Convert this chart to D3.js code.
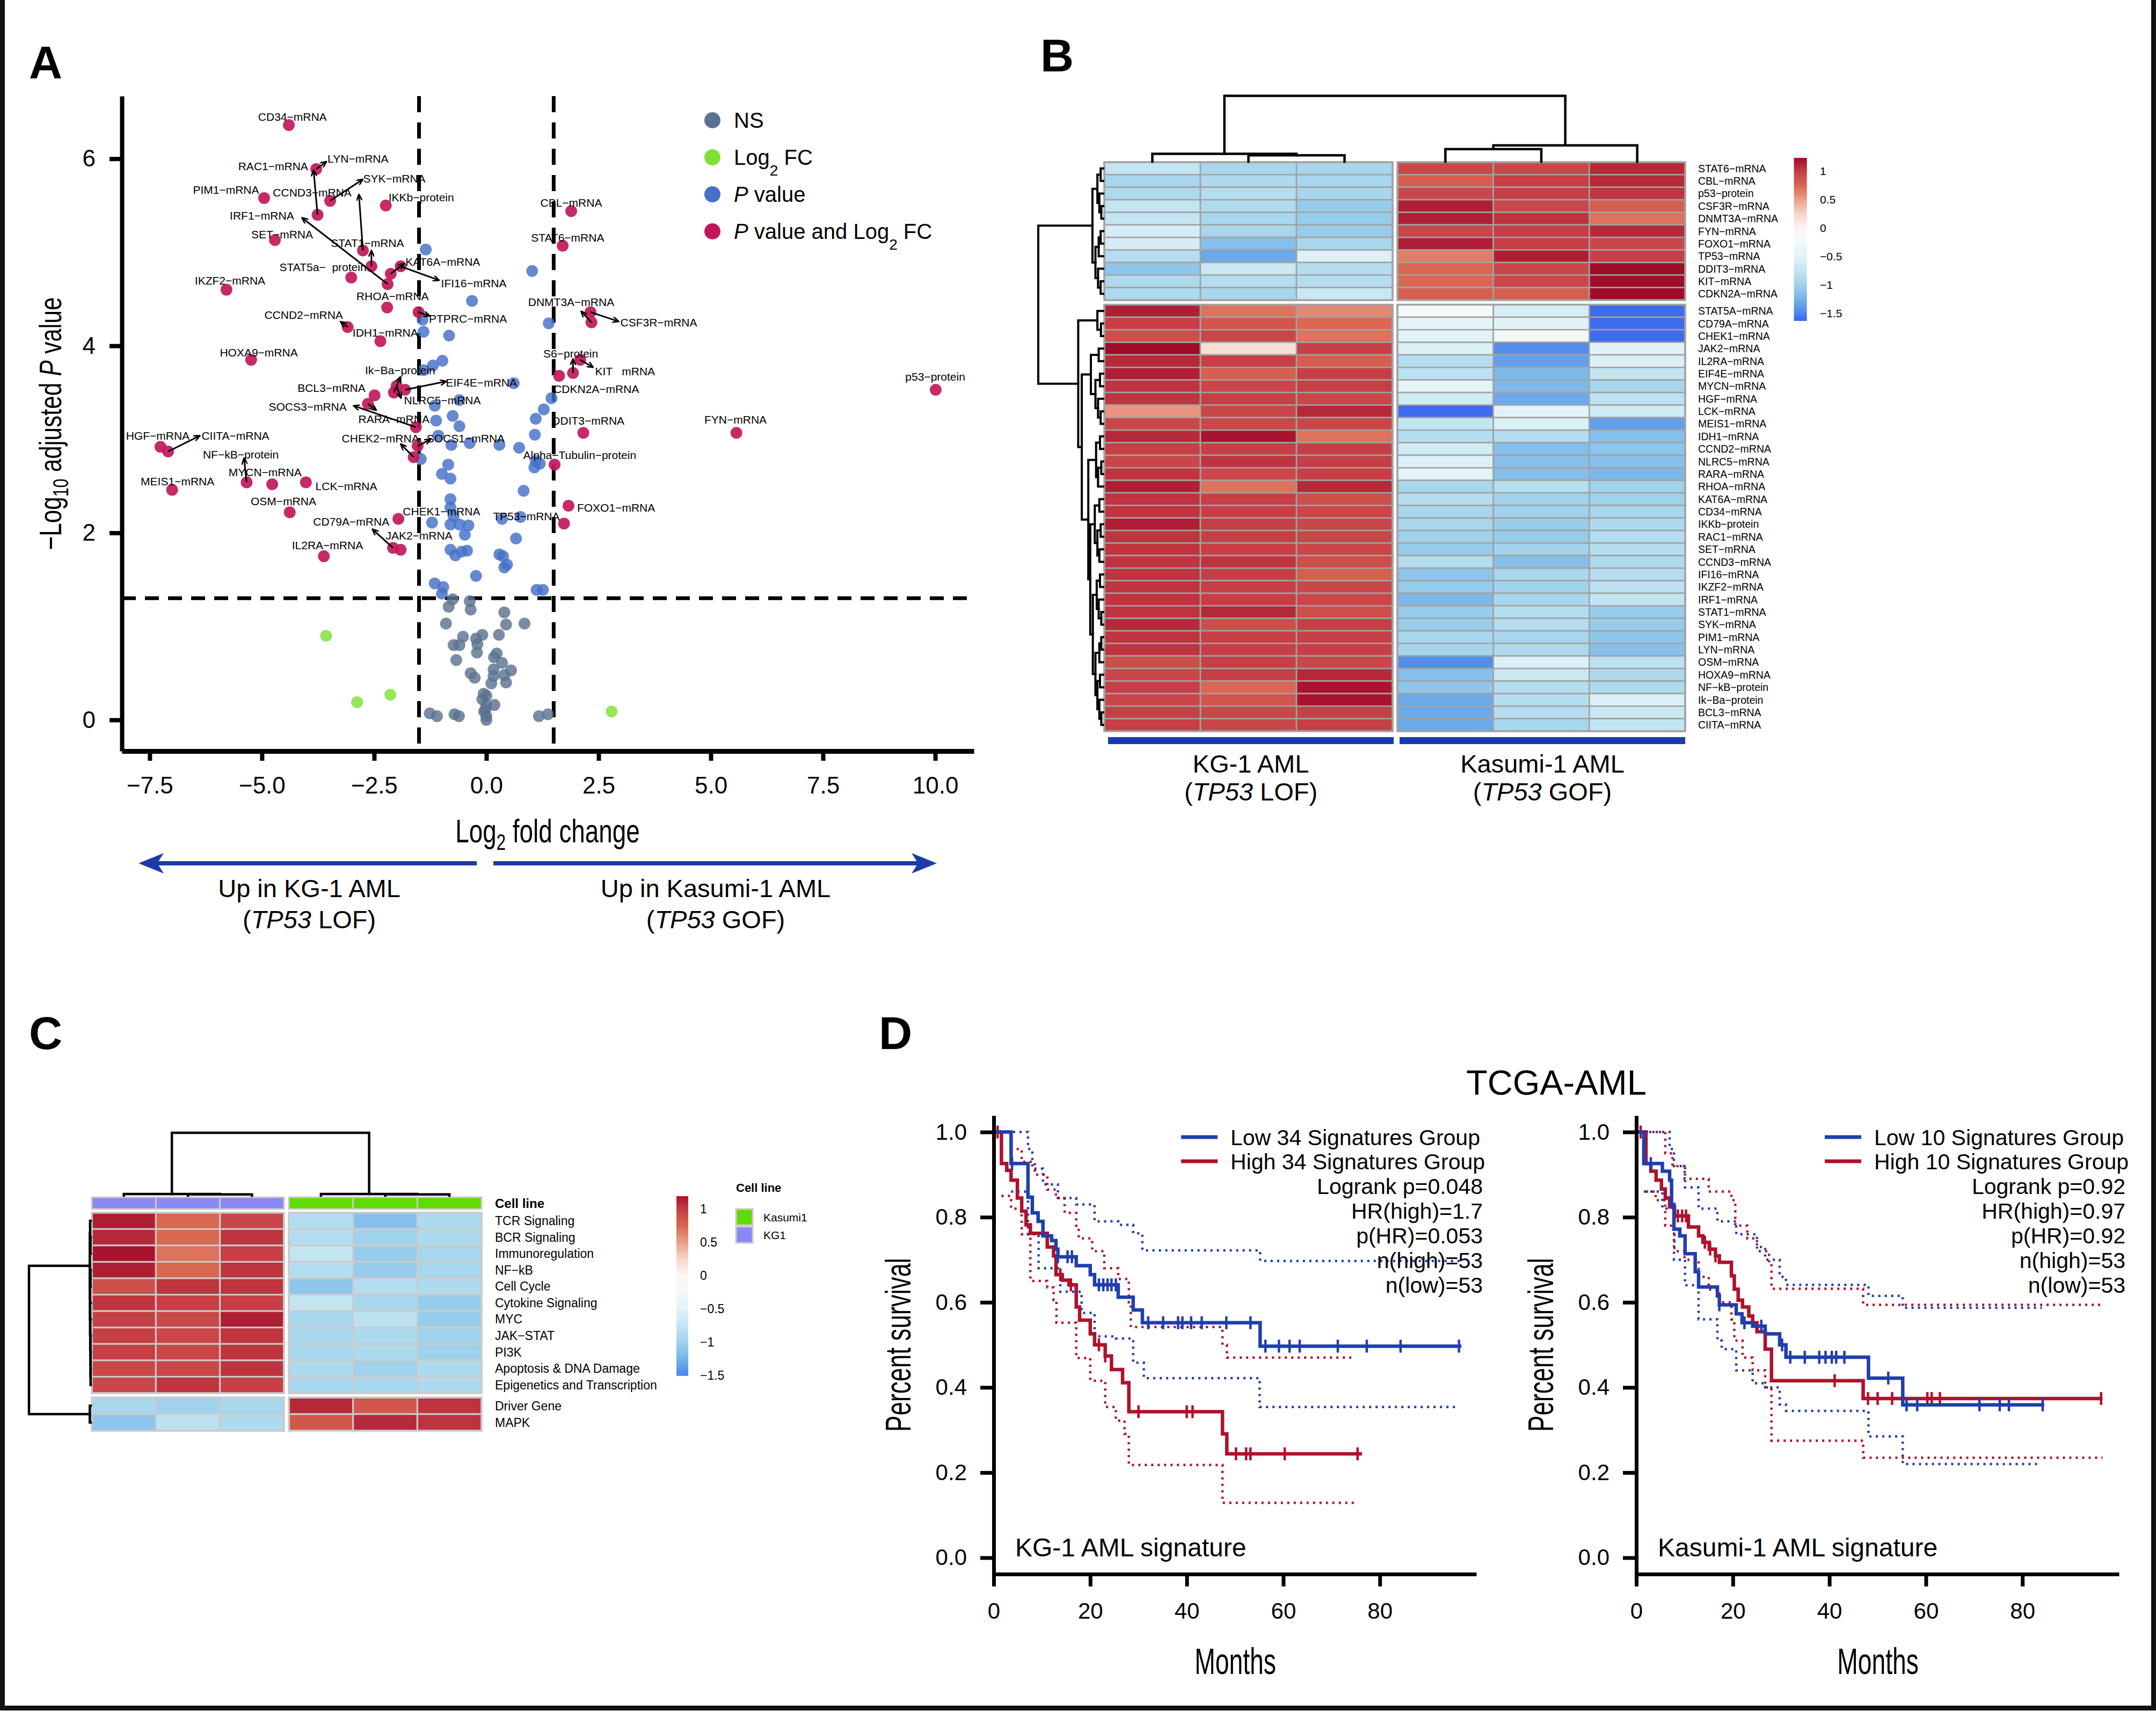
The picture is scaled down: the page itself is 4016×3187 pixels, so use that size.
<!DOCTYPE html>
<html><head><meta charset="utf-8">
<script src="https://cdn.jsdelivr.net/npm/d3@7"></script>
<style>body{margin:0;background:#fff}svg{display:block}text{font-family:"Liberation Sans",Arial,Helvetica,sans-serif;fill:#000}</style>
</head><body>
<svg id="fig" width="4016" height="3187" xmlns="http://www.w3.org/2000/svg"></svg>
<script>
// ======================= DATA =======================
// Panel A: volcano plot  [label, log2FC, -log10 adj P]
const volcanoSig = [
 ["CD34−mRNA",-4.40,6.36],["LYN−mRNA",-3.79,5.89],["RAC1−mRNA",-3.76,5.40],["PIM1−mRNA",-4.95,5.58],
 ["SYK−mRNA",-3.48,5.55],["CCND3−mRNA",-2.75,5.02],["STAT1−mRNA",-2.56,4.85],["IKKb−protein",-2.24,5.50],
 ["IRF1−mRNA",-2.20,4.66],["SET−mRNA",-4.71,5.13],["STAT5a−  protein",-3.01,4.73],["KAT6A−mRNA",-2.13,4.77],
 ["IFI16−mRNA",-1.91,4.85],["IKZF2−mRNA",-5.79,4.60],["RHOA−mRNA",-2.21,4.41],["PTPRC−mRNA",-1.51,4.36],
 ["CCND2−mRNA",-3.09,4.20],["IDH1−mRNA",-2.36,4.05],["HOXA9−mRNA",-5.24,3.85],["Ik−Ba−protein",-2.06,3.50],
 ["EIF4E−mRNA",-1.81,3.53],["NLRC5−mRNA",-2.00,3.57],["BCL3−mRNA",-2.49,3.47],["SOCS3−mRNA",-1.57,3.13],
 ["RARA−mRNA",-2.64,3.38],["HGF−mRNA",-7.26,2.92],["CIITA−mRNA",-7.09,2.87],["CHEK2−mRNA",-1.62,2.81],
 ["SOCS1−mRNA",-1.53,2.93],["NF−kB−protein",-5.34,2.54],["MYCN−mRNA",-4.77,2.52],["MEIS1−mRNA",-7.00,2.46],
 ["LCK−mRNA",-4.02,2.54],["OSM−mRNA",-4.38,2.22],["CHEK1−mRNA",-1.96,2.15],["CD79A−mRNA",-2.08,1.84],
 ["JAK2−mRNA",-1.91,1.82],["IL2RA−mRNA",-3.62,1.75],["CBL−mRNA",1.89,5.44],["STAT6−mRNA",1.70,5.07],
 ["CSF3R−mRNA",2.32,4.36],["DNMT3A−mRNA",2.34,4.25],["S6−protein",1.93,3.71],["KIT   mRNA",2.09,3.85],
 ["CDKN2A−mRNA",1.62,3.68],["p53−protein",10.01,3.53],["FYN−mRNA",5.57,3.07],["DDIT3−mRNA",2.16,3.07],
 ["Alpha−Tubulin−protein",1.52,2.73],["FOXO1−mRNA",1.83,2.29],["TP53−mRNA",1.73,2.10]
];
// P value only (blue)
const volcanoPOnly = [
 [-1.35,5.03],[1.02,4.80],[-0.32,4.48],[-1.42,4.28],[1.39,4.24],[-1.40,4.15],[-0.83,4.11],[-0.98,3.84],[-1.19,3.79],
 [-1.40,3.74],[0.61,3.60],[1.45,3.44],[1.28,3.32],[-1.15,3.36],[-0.60,3.42],[-0.75,3.25],[-1.12,3.20],[-0.60,3.14],
 [-1.07,3.04],[1.10,3.22],[1.08,3.05],[-0.78,2.94],[-0.37,2.96],[0.29,2.94],[0.73,2.91],[-1.46,2.79],[1.10,2.77],
 [1.19,2.74],[1.07,2.70],[-0.85,2.73],[-0.99,2.63],[-0.80,2.58],[0.83,2.45],[-0.80,2.36],[-0.80,2.27],[-0.73,2.18],
 [-1.21,2.11],[-0.80,2.09],[-0.60,2.09],[-0.40,2.08],[0.35,2.15],[0.76,2.17],[-0.48,1.98],[0.66,1.94],[-0.80,1.82],
 [-0.69,1.76],[-0.55,1.80],[-0.43,1.81],[0.29,1.77],[0.37,1.75],[0.46,1.66],[0.40,1.63],[-0.23,1.54],[-1.15,1.46],
 [-0.96,1.42],[-0.99,1.35],[1.12,1.39],[1.26,1.39]
];
// NS (grey)
const volcanoNS = [
 [-0.75,1.29],[-0.37,1.27],[-0.84,1.21],[-0.35,1.18],[0.40,1.15],[-0.90,1.03],[0.44,1.02],[0.85,1.03],[-0.52,0.89],
 [-0.23,0.87],[-0.09,0.91],[0.28,0.91],[-0.73,0.80],[-0.60,0.80],[-0.20,0.81],[-0.21,0.72],[-0.67,0.64],[0.23,0.71],
 [0.17,0.67],[0.35,0.61],[0.16,0.54],[0.55,0.53],[-0.35,0.50],[-0.26,0.45],[0.40,0.48],[0.16,0.47],[0.44,0.40],
 [0.11,0.39],[-0.06,0.28],[0.00,0.26],[-0.09,0.22],[0.18,0.16],[0.00,0.16],[-0.02,0.11],[0.00,0.04],[0.00,0.00],
 [-1.26,0.07],[-1.10,0.04],[-0.71,0.06],[-0.61,0.04],[1.17,0.04],[1.37,0.06],[-0.05,0.09]
];
// Log2 FC only (green)
const volcanoFCOnly = [[-3.57,0.90],[-2.88,0.19],[-2.14,0.27],[2.79,0.09]];
const volcanoXTicks = [-7.5,-5,-2.5,0,2.5,5,7.5,10];
const volcanoYTicks = [0,2,4,6];
const fcCut = 1.5, pCut = 1.301;

// Panel B heatmap (columns: KG-1 x3, Kasumi-1 x3)
const hmB_topRows = ["STAT6−mRNA","CBL−mRNA","p53−protein","CSF3R−mRNA","DNMT3A−mRNA","FYN−mRNA","FOXO1−mRNA","TP53−mRNA","DDIT3−mRNA","KIT−mRNA","CDKN2A−mRNA"];
const hmB_topVals = [
 [-0.75,-0.95,-0.95,0.95,0.95,1.1],[-0.95,-0.9,-0.95,0.8,1.0,1.1],[-0.9,-0.85,-0.95,0.95,1.0,1.05],
 [-0.75,-0.9,-1.05,1.15,0.95,0.8],[-0.75,-0.95,-1.05,1.15,1.05,0.7],[-0.6,-0.95,-1.05,0.95,1.0,1.1],
 [-0.6,-1.15,-0.95,1.15,1.0,0.95],[-0.85,-1.3,-0.55,0.65,1.15,1.0],[-1.1,-0.7,-0.85,0.75,0.95,1.3],
 [-0.9,-0.85,-0.85,0.75,0.95,1.3],[-0.9,-0.95,-0.7,0.8,0.8,1.3]
];
const hmB_bottomRows = ["STAT5A−mRNA","CD79A−mRNA","CHEK1−mRNA","JAK2−mRNA","IL2RA−mRNA","EIF4E−mRNA","MYCN−mRNA","HGF−mRNA","LCK−mRNA","MEIS1−mRNA","IDH1−mRNA","CCND2−mRNA","NLRC5−mRNA","RARA−mRNA","RHOA−mRNA","KAT6A−mRNA","CD34−mRNA","IKKb−protein","RAC1−mRNA","SET−mRNA","CCND3−mRNA","IFI16−mRNA","IKZF2−mRNA","IRF1−mRNA","STAT1−mRNA","SYK−mRNA","PIM1−mRNA","LYN−mRNA","OSM−mRNA","HOXA9−mRNA","NF−kB−protein","Ik−Ba−protein","BCL3−mRNA","CIITA−mRNA"];
const hmB_bottomVals = [
 [1.15,0.7,0.6,-0.15,-0.6,-1.6],[1.0,0.85,0.75,-0.45,-0.5,-1.6],[0.9,0.95,0.7,-0.5,-0.25,-1.6],
 [1.3,0.2,1.0,-0.55,-1.45,-0.5],[1.1,1.0,0.8,-0.85,-1.35,-0.55],[1.15,0.8,1.0,-0.8,-1.2,-0.75],
 [1.05,0.95,1.0,-0.45,-1.2,-0.95],[1.05,1.0,0.95,-0.65,-1.3,-0.8],[0.55,0.95,1.1,-1.6,-0.5,-0.65],
 [0.95,0.95,0.95,-0.75,-0.55,-1.35],[1.1,1.2,0.7,-0.85,-0.85,-1.15],[1.0,1.0,1.0,-0.65,-1.15,-1.1],
 [0.95,1.05,1.0,-0.55,-1.15,-1.15],[1.05,0.95,1.0,-0.5,-1.15,-1.2],[1.15,0.7,1.1,-0.95,-0.85,-1.0],
 [1.05,1.0,0.9,-0.85,-1.0,-1.0],[1.05,1.0,0.95,-0.95,-1.0,-0.95],[1.15,1.0,0.95,-0.95,-1.05,-0.9],
 [1.05,1.0,0.95,-1.0,-1.05,-0.85],[1.05,1.0,0.95,-1.05,-1.0,-0.85],[1.05,1.05,0.9,-0.85,-1.15,-0.9],
 [1.05,1.0,0.8,-1.1,-0.95,-0.85],[1.05,1.0,0.95,-1.05,-1.0,-0.8],[1.05,1.0,0.95,-1.2,-0.95,-0.75],
 [1.05,1.1,0.9,-1.05,-0.85,-1.05],[1.1,0.9,1.0,-1.05,-0.85,-1.05],[1.05,1.0,1.0,-0.95,-0.95,-1.1],
 [1.05,1.0,1.0,-0.95,-0.9,-1.15],[0.9,1.0,0.95,-1.45,-0.55,-0.8],[0.95,1.0,1.1,-1.15,-0.7,-0.9],
 [1.0,0.75,1.2,-1.1,-0.85,-0.9],[0.95,0.85,1.2,-1.3,-0.85,-0.55],[1.0,0.95,1.0,-1.3,-0.85,-0.7],
 [1.0,0.95,1.0,-1.3,-0.95,-0.75]
];
// dendrograms: [mergeHeight, left, right]; leaves = row/column index
const hmB_colTree = [10,[1.18,0,[0.97,1,2]],[2.47,[1.89,3,4],5]];
const hmB_rowTree = [10,
 [1.66,[0.9,[0.4,0,1],[0.6,2,[0.3,3,4]]],[1.2,[0.7,[0.4,5,6],7],[0.8,8,[0.4,9,10]]]],
 [3.85,[0.9,11,[0.35,12,13]],
  [3.3,[1.9,[0.7,14,15],[1.2,[0.5,16,17],[0.8,18,[0.4,19,20]]]],
   [2.3,[1.1,[0.5,21,22],[0.8,[0.3,23,24],25]],
    [2.0,[1.3,[0.6,26,27],[0.9,[0.4,28,29],[0.6,30,31]]],
     [1.6,[1.0,[0.5,32,33],[0.7,34,[0.3,35,36]]],
      [1.2,[0.6,[0.3,37,38],39],[0.9,[0.5,40,41],[0.6,42,[0.3,43,44]]]]]]]]]];
const hmB_groups = ["KG-1 AML","Kasumi-1 AML"];
const hmB_groupSub = ["LOF","GOF"];

// Panel C heatmap
const hmC_topRows = ["TCR Signaling","BCR Signaling","Immunoregulation","NF−kB","Cell Cycle","Cytokine Signaling","MYC","JAK−STAT","PI3K","Apoptosis & DNA Damage","Epigenetics and Transcription"];
const hmC_topVals = [
 [1.15,0.75,0.95,-0.85,-1.15,-0.9],[1.1,0.75,1.05,-0.85,-1.0,-0.9],[1.2,0.7,1.0,-0.75,-1.05,-0.95],
 [1.15,0.75,1.05,-0.85,-1.05,-0.95],[0.9,1.05,1.05,-1.1,-0.85,-0.9],[1.05,1.0,1.0,-0.75,-0.95,-1.05],
 [1.0,0.95,1.15,-0.95,-0.8,-1.05],[1.0,0.95,1.05,-0.95,-0.9,-1.0],[1.0,0.95,1.05,-0.95,-0.9,-1.0],
 [0.95,0.95,1.05,-0.9,-1.0,-0.9],[0.95,1.05,1.0,-0.95,-0.95,-0.9]
];
const hmC_bottomRows = ["Driver Gene","MAPK"];
const hmC_bottomVals = [[-0.95,-1.0,-0.95,1.1,0.85,1.05],[-1.1,-0.8,-0.9,0.85,1.1,1.05]];
const hmC_cellLine = ["KG1","KG1","KG1","Kasumi1","Kasumi1","Kasumi1"];
const hmC_colTree = [10,[0.25,0,[0.2,1,2]],[0.25,3,[0.2,4,5]]];
const hmC_rowTree = [10,[0.15,[0.1,0,[0.05,1,2]],[0.12,[0.05,3,4],[0.1,5,[0.08,6,[0.06,7,[0.04,8,[0.02,9,10]]]]]]],[0.15,11,12]];
const heatTicks = [1,0.5,0,-0.5,-1,-1.5];

// Panel D: Kaplan-Meier (TCGA-AML) [months, survival]
const kmL_low = [[0,1],[3.6,0.926],[7.1,0.847],[8,0.81],[9.2,0.79],[10.2,0.756],[12,0.745],[12.9,0.725],[13.3,0.707],[17.1,0.686],[20,0.665],[20.9,0.641],[25.8,0.612],[28.9,0.582],[30.8,0.552],[55.2,0.497],[96.9,0.497]];
const kmL_lowCens = [3.8,13.3,15.3,16.2,21.8,22.7,23.6,24.4,25.3,32,35.1,38.2,39.1,40.9,43.1,48.2,53.2,56.3,59.1,61.3,63.4,71.3,77.3,84.3,96.4];
const kmL_high = [[0,1],[1.6,0.926],[2.7,0.91],[3.6,0.887],[4.9,0.845],[5.8,0.814],[6.7,0.782],[7.6,0.762],[11.1,0.73],[12.4,0.709],[12.9,0.665],[14.2,0.652],[15.6,0.641],[17.1,0.589],[17.8,0.558],[20,0.526],[20.9,0.5],[23.1,0.474],[24.4,0.442],[26.7,0.411],[28,0.343],[47.4,0.291],[48.3,0.244],[76.3,0.244]];
const kmL_highCens = [0.8,13.8,16,21.8,23.1,30,40,41.2,50.2,52.3,53.2,60.3,75.4];
const kmL_lowUp = [[0,1],[7.1,0.96],[8,0.914],[10.2,0.877],[13.3,0.845],[17.1,0.83],[20.9,0.79],[25.8,0.782],[28.9,0.762],[30.8,0.722],[55.2,0.697],[96.9,0.697]];
const kmL_lowLo = [[3.6,0.86],[7.1,0.76],[9.3,0.68],[13.8,0.625],[18.2,0.575],[20.9,0.52],[25.3,0.515],[28.9,0.458],[31.1,0.422],[55.1,0.354],[95.6,0.354]];
const kmL_highUp = [[1.6,1.0],[3.6,0.96],[5.8,0.93],[8.5,0.9],[11.1,0.865],[12.9,0.845],[14.7,0.81],[17.1,0.78],[17.6,0.75],[20.4,0.72],[22.9,0.68],[25.8,0.655],[28,0.6],[28.4,0.542],[47.4,0.5],[48.3,0.47],[74.5,0.47]];
const kmL_highLo = [[1.6,0.85],[3.6,0.82],[5.8,0.76],[7.6,0.65],[11.1,0.635],[12.4,0.605],[13,0.552],[17.1,0.469],[20,0.416],[23.1,0.354],[25.3,0.322],[27.1,0.291],[28,0.218],[47.4,0.129],[75.5,0.129]];
const kmL_legend = ["Low 34 Signatures Group","High 34 Signatures Group"];
const kmL_stats = ["Logrank p=0.048","HR(high)=1.7","p(HR)=0.053","n(high)=53","n(low)=53"];

const kmR_low = [[0,1],[1.55,0.926],[5.4,0.908],[6.9,0.887],[7.3,0.83],[7.8,0.772],[9,0.756],[10.1,0.714],[12.2,0.672],[12.9,0.636],[16.8,0.615],[17.2,0.594],[20.7,0.573],[21.9,0.552],[24.1,0.544],[26.7,0.526],[29.7,0.5],[31,0.471],[48.1,0.422],[55.2,0.359],[84.5,0.359]];
const kmR_lowCens = [3,17.2,22.4,25.9,30.2,31.9,34.9,37.9,39.2,40.5,41.4,43.1,52.2,56,58.2,71.1,75.3,77.2,84.2];
const kmR_high = [[0,1],[2,0.926],[3,0.908],[4.1,0.887],[5.2,0.866],[6,0.845],[6.9,0.824],[7.9,0.803],[10.8,0.777],[12.9,0.756],[13.8,0.741],[15.1,0.725],[16.4,0.709],[17.2,0.694],[19.7,0.662],[20.3,0.631],[21.1,0.605],[22,0.589],[23.3,0.568],[24.1,0.552],[25,0.531],[26.7,0.49],[28,0.416],[47,0.374],[96.6,0.374]];
const kmR_highCens = [0.9,8.6,9.5,10.3,14.2,15.3,16.4,41.1,48,50,53,60.3,61.2,62.9,96.3];
const kmR_highUp = [[2,1.0],[6,0.95],[7.5,0.92],[10,0.89],[15,0.86],[19.7,0.84],[20.5,0.78],[23,0.75],[25,0.72],[27.5,0.69],[28,0.632],[47,0.594],[96.6,0.594]];
const kmR_highLo = [[2,0.86],[4,0.84],[6,0.78],[7.9,0.72],[10,0.7],[12.9,0.66],[15,0.63],[17.2,0.6],[19.7,0.56],[20.3,0.51],[22,0.47],[24.1,0.44],[26.7,0.40],[28,0.275],[47,0.235],[96.6,0.235]];
const kmR_lowUp = [[0,1],[4,1.0],[6.9,0.96],[7.8,0.92],[10.1,0.87],[12.9,0.82],[16.8,0.79],[20.7,0.76],[25,0.73],[26.7,0.7],[29.7,0.66],[31,0.641],[48.1,0.615],[55.2,0.587],[84,0.587]];
const kmR_lowLo = [[1.55,0.86],[5.4,0.82],[7.8,0.7],[10.1,0.64],[12.9,0.56],[16.8,0.51],[17.7,0.49],[20.7,0.44],[24.1,0.41],[26.7,0.4],[29.7,0.36],[31,0.345],[48.1,0.285],[55.2,0.22],[83.5,0.22]];
const kmR_legend = ["Low 10 Signatures Group","High 10 Signatures Group"];
const kmR_stats = ["Logrank p=0.92","HR(high)=0.97","p(HR)=0.92","n(high)=53","n(low)=53"];
const kmXTicks = [0,20,40,60,80];
const kmYTicks = [0,0.2,0.4,0.6,0.8,1.0];

// ======================= LAYOUT (label placement for volcano, data units) =======================
// [label, labelX, labelY, arrowEndX, arrowEndY]
const volcanoLabelLayout = [
 ["CD34−mRNA",-4.32,6.45],["LYN−mRNA",-2.86,6.00,-3.56,5.97],["RAC1−mRNA",-4.75,5.92,-3.85,5.88],
 ["PIM1−mRNA",-5.80,5.67],["SYK−mRNA",-2.05,5.79,-2.75,5.78],["CCND3−mRNA",-3.88,5.64,-2.84,5.62],
 ["STAT1−mRNA",-2.65,5.10,-2.56,5.02],["IKKb−protein",-1.45,5.59],["IRF1−mRNA",-5.00,5.39,-4.11,5.37],
 ["SET−mRNA",-4.55,5.19],["STAT5a−  protein",-3.64,4.84],["KAT6A−mRNA",-0.97,4.90,-1.83,4.88],
 ["IFI16−mRNA",-0.28,4.67,-1.05,4.70],["IKZF2−mRNA",-5.71,4.70],["RHOA−mRNA",-2.09,4.53],
 ["PTPRC−mRNA",-0.41,4.29,-1.26,4.32],["CCND2−mRNA",-4.07,4.33,-3.25,4.26],["IDH1−mRNA",-2.25,4.14],
 ["HOXA9−mRNA",-5.07,3.93],["Ik−Ba−protein",-1.92,3.74,-1.91,3.67],["EIF4E−mRNA",-0.11,3.61,-0.89,3.62],
 ["NLRC5−mRNA",-0.98,3.42,-1.90,3.44],["BCL3−mRNA",-3.45,3.55],["SOCS3−mRNA",-3.98,3.35,-2.96,3.36],
 ["RARA−mRNA",-2.06,3.22,-2.45,3.31],["HGF−mRNA",-7.32,3.04],["CIITA−mRNA",-5.59,3.04,-6.38,3.04],
 ["CHEK2−mRNA",-2.36,3.01,-1.91,2.95],["SOCS1−mRNA",-0.46,3.01,-1.24,3.00],["NF−kB−protein",-5.47,2.84,-5.40,2.80],
 ["MYCN−mRNA",-4.93,2.65],["MEIS1−mRNA",-6.88,2.55],["LCK−mRNA",-3.12,2.50],["OSM−mRNA",-4.52,2.34],
 ["CHEK1−mRNA",-1.00,2.23],["CD79A−mRNA",-3.01,2.12,-2.54,2.04],["JAK2−mRNA",-1.50,1.97],["IL2RA−mRNA",-3.54,1.87],
 ["CBL−mRNA",1.89,5.53],["STAT6−mRNA",1.81,5.16],["CSF3R−mRNA",3.84,4.25,2.95,4.26],["DNMT3A−mRNA",1.89,4.47,2.11,4.37],
 ["S6−protein",1.88,3.92,1.93,3.86],["KIT   mRNA",3.09,3.73,2.38,3.77],["CDKN2A−mRNA",2.45,3.54],
 ["p53−protein",10.0,3.67],["FYN−mRNA",5.55,3.21],["DDIT3−mRNA",2.27,3.20],["Alpha−Tubulin−protein",2.08,2.83],
 ["FOXO1−mRNA",2.89,2.27],["TP53−mRNA",0.89,2.18]
];

// ======================= DRAWING =======================
const svg = d3.select('#fig');
svg.append('rect').attr('width',4016).attr('height',3187).attr('fill','#fff');
// outer frame
svg.append('rect').attr('x',4.5).attr('y',-20).attr('width',4007).attr('height',3201.5)
  .attr('fill','none').attr('stroke','#111').attr('stroke-width',9);

const defs = svg.append('defs');
defs.append('marker').attr('id','arrowA').attr('viewBox','0 0 12 10').attr('refX',11).attr('refY',5)
  .attr('markerWidth',13).attr('markerHeight',11).attr('markerUnits','userSpaceOnUse').attr('orient','auto')
  .append('path').attr('d','M0,0L11,5L0,10').attr('fill','none').attr('stroke','#000').attr('stroke-width',2.4);

function panelLetter(t,x,y){svg.append('text').attr('x',x).attr('y',y).style('font-size','86px').style('font-weight','bold').text(t);}
panelLetter('A',54,146); panelLetter('B',1938,133); panelLetter('C',54,1954); panelLetter('D',1637,1954);

// condensed text helper
function condText(parent,x,y,size,sx,rot,anchor){
  const g = parent.append('g').attr('transform',`translate(${x},${y}) rotate(${rot}) scale(${sx},1)`);
  return g.append('text').attr('text-anchor',anchor).style('font-size',size+'px');
}
function styleAxis(g,fs,lw){
  g.select('.domain').attr('stroke','#000').attr('stroke-width',lw);
  g.selectAll('.tick line').attr('stroke','#000').attr('stroke-width',lw);
  g.selectAll('.tick text').style('font-size',fs+'px').attr('fill','#000')
    .style('font-family','"Liberation Sans",Arial,sans-serif');
}

// ---------------- Panel A ----------------
(function(){
  const ax = d3.scaleLinear().domain([-8.12,10.86]).range([227,1814]);
  const ay = d3.scaleLinear().domain([-0.333,6.67]).range([1399,179]);
  const g = svg.append('g');
  [-fcCut,fcCut].forEach(v=>g.append('line').attr('x1',ax(v)).attr('x2',ax(v)).attr('y1',179).attr('y2',1399)
     .attr('stroke','#000').attr('stroke-width',7).attr('stroke-dasharray','30,19'));
  g.append('line').attr('x1',227).attr('x2',1814).attr('y1',ay(pCut)).attr('y2',ay(pCut))
     .attr('stroke','#000').attr('stroke-width',7).attr('stroke-dasharray','26,17');
  const yg = g.append('g').attr('transform','translate(227,0)')
     .call(d3.axisLeft(ay).tickValues(volcanoYTicks).tickFormat(d3.format('d')).tickSize(23).tickSizeOuter(0).tickPadding(26));
  styleAxis(yg,44,8);
  const xg = g.append('g').attr('transform','translate(0,1399)')
     .call(d3.axisBottom(ax).tickValues(volcanoXTicks).tickFormat(d3.format('.1f')).tickSize(18).tickSizeOuter(0).tickPadding(30));
  styleAxis(xg,44,8);
  xg.select('.domain').attr('stroke-width',9);
  const R = 11;
  const layers = [[volcanoNS,'#5b7390'],[volcanoFCOnly,'#7de234'],[volcanoPOnly,'#4470c8']];
  layers.forEach(([arr,col])=>{
    g.append('g').selectAll('circle').data(arr).join('circle')
      .attr('cx',d=>ax(d[0])).attr('cy',d=>ay(d[1])).attr('r',R).attr('fill',col).attr('fill-opacity',0.82);
  });
  g.append('g').selectAll('circle').data(volcanoSig).join('circle')
    .attr('cx',d=>ax(d[1])).attr('cy',d=>ay(d[2])).attr('r',R).attr('fill','#c2185b').attr('fill-opacity',0.92);
  const lab = new Map(volcanoLabelLayout.map(d=>[d[0],d]));
  volcanoSig.forEach(d=>{
    const L = lab.get(d[0]); if(!L) return;
    if(L.length>3){
      g.append('line').attr('x1',ax(d[1])).attr('y1',ay(d[2])).attr('x2',ax(L[3])).attr('y2',ay(L[4]))
       .attr('stroke','#000').attr('stroke-width',3).attr('marker-end','url(#arrowA)');
    }
  });
  volcanoSig.forEach(d=>{
    const L = lab.get(d[0]); if(!L) return;
    g.append('text').attr('x',ax(L[1])).attr('y',ay(L[2])).attr('text-anchor','middle').attr('dominant-baseline','central')
      .style('font-size','21px').style('white-space','pre').text(d[0]);
  });
  const xt = condText(g,1020,1569,62,0.74,0,'middle');
  xt.append('tspan').text('Log');
  xt.append('tspan').attr('dy',14).style('font-size','42px').text('2');
  xt.append('tspan').attr('dy',-14).text(' fold change');
  const yt = condText(g,114,789,58,0.76,-90,'middle');
  yt.append('tspan').text('−Log');
  yt.append('tspan').attr('dy',13).style('font-size','40px').text('10');
  yt.append('tspan').attr('dy',-13).text(' adjusted ');
  yt.append('tspan').style('font-style','italic').text('P');
  yt.append('tspan').text(' value');
  const leg = [['NS','#5b7390'],['FC','#7de234'],['P','#4470c8'],['PFC','#c2185b']];
  leg.forEach((d,i)=>{
    const cy = 224 + i*69;
    g.append('circle').attr('cx',1327).attr('cy',cy).attr('r',15).attr('fill',d[1]);
    const t = g.append('text').attr('x',1367).attr('y',cy+14).style('font-size','40px');
    if(d[0]==='NS') t.text('NS');
    if(d[0]==='FC'){t.append('tspan').text('Log');t.append('tspan').attr('dy',20).style('font-size','28px').text('2');t.append('tspan').attr('dy',-20).text(' FC');}
    if(d[0]==='P'){t.append('tspan').style('font-style','italic').text('P');t.append('tspan').text(' value');}
    if(d[0]==='PFC'){t.append('tspan').style('font-style','italic').text('P');t.append('tspan').text(' value and Log');t.append('tspan').attr('dy',20).style('font-size','28px').text('2');t.append('tspan').attr('dy',-20).text(' FC');}
  });
  const blue = '#1c3aa9';
  g.append('line').attr('x1',292).attr('x2',888).attr('y1',1608).attr('y2',1608).attr('stroke',blue).attr('stroke-width',8);
  g.append('line').attr('x1',919).attr('x2',1711).attr('y1',1608).attr('y2',1608).attr('stroke',blue).attr('stroke-width',8);
  g.append('path').attr('d','M258,1608L305,1589L293,1608L305,1627Z').attr('fill',blue);
  g.append('path').attr('d','M1745,1608L1698,1589L1710,1608L1698,1627Z').attr('fill',blue);
  const dirs = [[576,'Up in KG-1 AML','LOF'],[1333,'Up in Kasumi-1 AML','GOF']];
  dirs.forEach(([cx,t1,t2])=>{
    g.append('text').attr('x',cx).attr('y',1671).attr('text-anchor','middle').style('font-size','47px').text(t1);
    const t = g.append('text').attr('x',cx).attr('y',1729).attr('text-anchor','middle').style('font-size','47px');
    t.append('tspan').text('(');t.append('tspan').style('font-style','italic').text('TP53');t.append('tspan').text(' '+t2+')');
  });
})();

// ---------------- shared heat colour ----------------
const heatColor = d3.scaleLinear()
  .domain([-1.65,-1.5,-1.25,-1.0,-0.75,-0.5,-0.2,0,0.25,0.5,0.75,1.0,1.2,1.4])
  .range(["#3760f0","#4c84ea","#74b2e8","#a0d2ec","#c3e5f2","#e2f3f8","#f5f9fa","#fbf5f3","#f7d8cb","#eba18a","#d96752","#c53f45","#a8142d","#960624"])
  .clamp(true);

function colorbar(x,w,top,bottom,dom,labelX,fs){
  const s = d3.scaleLinear().domain(dom).range([bottom,top]);
  const g = svg.append('g');
  const N = 140;
  d3.range(N).forEach(i=>{
    const v0 = dom[0]+(dom[1]-dom[0])*i/N, v1 = dom[0]+(dom[1]-dom[0])*(i+1)/N;
    g.append('rect').attr('x',x).attr('width',w).attr('y',s(v1)).attr('height',s(v0)-s(v1)+0.8).attr('fill',heatColor((v0+v1)/2));
  });
  heatTicks.forEach(t=>g.append('text').attr('x',labelX).attr('y',s(t)).attr('dominant-baseline','central')
    .style('font-size',fs+'px').text(d3.format('~g')(t)));
}

function dendro(tree,posOf,hScale,orient,lw){
  const g = svg.append('g');
  function rec(node){
    if(typeof node==='number') return {p:posOf(node),h:0};
    const A = rec(node[1]), B = rec(node[2]);
    const hp = hScale(node[0]), ha = hScale(A.h), hb = hScale(B.h);
    const d = orient==='top' ? `M${A.p},${ha}V${hp}H${B.p}V${hb}` : `M${ha},${A.p}H${hp}V${B.p}H${hb}`;
    g.append('path').attr('d',d).attr('fill','none').attr('stroke','#000').attr('stroke-width',lw).attr('stroke-linecap','square');
    return {p:(A.p+B.p)/2,h:node[0]};
  }
  rec(tree);
}

function heatBlock(rowsScale,rows,vals,colBands,stroke,sw){
  const g = svg.append('g');
  rows.forEach((r,i)=>{
    vals[i].forEach((v,j)=>{
      const band = j<3?colBands[0]:colBands[1];
      g.append('rect').attr('x',band(j)).attr('y',rowsScale(r)).attr('width',band.bandwidth()).attr('height',rowsScale.bandwidth())
        .attr('fill',heatColor(v)).attr('stroke',stroke).attr('stroke-width',sw);
    });
  });
  return g;
}

// ---------------- Panel B ----------------
(function(){
  const colL = d3.scaleBand().domain([0,1,2]).range([2057,2594]);
  const colR = d3.scaleBand().domain([3,4,5]).range([2603,3139]);
  const rowT = d3.scaleBand().domain(hmB_topRows).range([302,559]);
  const rowB = d3.scaleBand().domain(hmB_bottomRows).range([567.5,1362]);
  heatBlock(rowT,hmB_topRows,hmB_topVals,[colL,colR],'#a2a2a2',2.6);
  heatBlock(rowB,hmB_bottomRows,hmB_bottomVals,[colL,colR],'#a2a2a2',2.6);
  [[colL,rowT],[colR,rowT],[colL,rowB],[colR,rowB]].forEach(([c,r])=>{
    const [x0,x1]=c.range(), [y0,y1]=r.range();
    svg.append('rect').attr('x',x0).attr('y',y0).attr('width',x1-x0).attr('height',y1-y0).attr('fill','none').attr('stroke','#a2a2a2').attr('stroke-width',3.5);
  });
  const allRows = hmB_topRows.concat(hmB_bottomRows);
  const rowPos = i => i<hmB_topRows.length ? rowT(hmB_topRows[i])+rowT.bandwidth()/2 : rowB(hmB_bottomRows[i-hmB_topRows.length])+rowB.bandwidth()/2;
  allRows.forEach((r,i)=>svg.append('text').attr('x',3163).attr('y',rowPos(i)).attr('dominant-baseline','central').style('font-size','19.5px').text(r));
  const colPos = j => (j<3?colL(j)+colL.bandwidth()/2:colR(j)+colR.bandwidth()/2);
  dendro(hmB_colTree,colPos,d=>301-d*12.24,'top',4.5);
  dendro(hmB_rowTree,rowPos,d=>2055-d*12.1,'left',4);
  const blue='#1a3bad';
  svg.append('rect').attr('x',2064).attr('y',1373).attr('width',532).attr('height',13).attr('fill',blue);
  svg.append('rect').attr('x',2607).attr('y',1373).attr('width',532).attr('height',13).attr('fill',blue);
  [[2330,0],[2873,1]].forEach(([cx,i])=>{
    svg.append('text').attr('x',cx).attr('y',1439).attr('text-anchor','middle').style('font-size','47px').text(hmB_groups[i]);
    const t = svg.append('text').attr('x',cx).attr('y',1491).attr('text-anchor','middle').style('font-size','47px');
    t.append('tspan').text('(');t.append('tspan').style('font-style','italic').text('TP53');t.append('tspan').text(' '+hmB_groupSub[i]+')');
  });
  colorbar(3341.6,24,294,597,[-1.63,1.236],3390,21);
})();

// ---------------- Panel C ----------------
(function(){
  const colL = d3.scaleBand().domain([0,1,2]).range([171,529]);
  const colR = d3.scaleBand().domain([3,4,5]).range([538,897]);
  const rowT = d3.scaleBand().domain(hmC_topRows).range([2258.7,2595]);
  const rowB = d3.scaleBand().domain(hmC_bottomRows).range([2603,2665]);
  const annoCol = {KG1:'#8b87f5',Kasumi1:'#5fdc00'};
  const gray = '#cbcbcb';
  hmC_cellLine.forEach((c,j)=>{
    const band = j<3?colL:colR;
    svg.append('rect').attr('x',band(j)).attr('y',2230).attr('width',band.bandwidth()).attr('height',22)
      .attr('fill',annoCol[c]).attr('stroke',gray).attr('stroke-width',3);
  });
  heatBlock(rowT,hmC_topRows,hmC_topVals,[colL,colR],gray,3);
  heatBlock(rowB,hmC_bottomRows,hmC_bottomVals,[colL,colR],gray,3);
  [[colL,rowT],[colR,rowT],[colL,rowB],[colR,rowB]].forEach(([c,r])=>{
    const [x0,x1]=c.range(), [y0,y1]=r.range();
    svg.append('rect').attr('x',x0).attr('y',y0).attr('width',x1-x0).attr('height',y1-y0).attr('fill','none').attr('stroke',gray).attr('stroke-width',3.5);
  });
  const allRows = hmC_topRows.concat(hmC_bottomRows);
  const rowPos = i => i<hmC_topRows.length ? rowT(hmC_topRows[i])+rowT.bandwidth()/2 : rowB(hmC_bottomRows[i-hmC_topRows.length])+rowB.bandwidth()/2;
  allRows.forEach((r,i)=>svg.append('text').attr('x',922).attr('y',rowPos(i)).attr('dominant-baseline','central').style('font-size','23px').text(r));
  svg.append('text').attr('x',922).attr('y',2241).attr('dominant-baseline','central').style('font-size','24px').style('font-weight','bold').text('Cell line');
  const colPos = j => (j<3?colL(j)+colL.bandwidth()/2:colR(j)+colR.bandwidth()/2);
  dendro(hmC_colTree,colPos,d=>2227-d*11.7,'top',4.5);
  dendro(hmC_rowTree,rowPos,d=>169-d*11.5,'left',4.5);
  colorbar(1260,22,2228,2562,[-1.5,1.194],1304,23);
  svg.append('text').attr('x',1371).attr('y',2220).style('font-size','22px').style('font-weight','bold').text('Cell line');
  [['Kasumi1',2252],['KG1',2285]].forEach(([k,y])=>{
    svg.append('rect').attr('x',1371).attr('y',y).attr('width',31).attr('height',30).attr('fill',annoCol[k]).attr('stroke',gray).attr('stroke-width',3);
    svg.append('text').attr('x',1422).attr('y',y+15).attr('dominant-baseline','central').style('font-size','21px').text(k);
  });
})();

// ---------------- Panel D ----------------
svg.append('text').attr('x',2899).attr('y',2039).attr('text-anchor','middle').style('font-size','65px').text('TCGA-AML');
function drawKM(o){
  const x = d3.scaleLinear().domain([0,100]).range([o.x0,o.x0+899]);
  const y = d3.scaleLinear().domain([-0.0385,1.0386]).range([2932,2078]);
  const g = svg.append('g');
  const blue='#1f3fae', red='#b0112b';
  const line = d3.line().x(d=>x(d[0])).y(d=>y(d[1])).curve(d3.curveStepAfter);
  [[o.lowUp,blue],[o.lowLo,blue],[o.highUp,red],[o.highLo,red]].forEach(([c,col])=>
    g.append('path').attr('d',line(c)).attr('fill','none').attr('stroke',col).attr('stroke-width',4.5).attr('stroke-dasharray','4,8'));
  const survAt = (c,t)=>{let s=c[0][1]; c.forEach(d=>{if(d[0]<=t) s=d[1];}); return s;};
  [[o.high,o.highCens,red],[o.low,o.lowCens,blue]].forEach(([c,cens,col])=>{
    g.append('path').attr('d',line(c)).attr('fill','none').attr('stroke',col).attr('stroke-width',6.5);
    g.append('g').selectAll('line').data(cens).join('line')
      .attr('x1',t=>x(t)).attr('x2',t=>x(t)).attr('y1',t=>y(survAt(c,t))-12).attr('y2',t=>y(survAt(c,t))+12)
      .attr('stroke',col).attr('stroke-width',4.5);
  });
  const yg = g.append('g').attr('transform',`translate(${o.x0},0)`)
    .call(d3.axisLeft(y).tickValues(kmYTicks).tickFormat(d3.format('.1f')).tickSize(25).tickSizeOuter(0).tickPadding(25));
  styleAxis(yg,42,7);
  const xg = g.append('g').attr('transform','translate(0,2932)')
    .call(d3.axisBottom(x).tickValues(kmXTicks).tickSize(23).tickSizeOuter(0).tickPadding(30));
  styleAxis(xg,42,7);
  const yt = condText(g,o.x0-155,2505,66,0.69,-90,'middle'); yt.text('Percent survival');
  const xt = condText(g,o.x0+450,3118,68,0.68,0,'middle'); xt.text('Months');
  g.append('text').attr('x',o.x0+40).attr('y',2899).style('font-size','48px').text(o.sig);
  [[o.legend[0],blue,2118],[o.legend[1],red,2163]].forEach(([t,col,yy])=>{
    g.append('line').attr('x1',o.legX).attr('x2',o.legX+68).attr('y1',yy).attr('y2',yy).attr('stroke',col).attr('stroke-width',7);
    g.append('text').attr('x',o.legX+92).attr('y',yy+15).style('font-size','41px').text(t);
  });
  o.stats.forEach((t,i)=>g.append('text').attr('x',o.statX).attr('y',2224+i*46).attr('text-anchor','end').style('font-size','41px').text(t));
}
drawKM({x0:1851,low:kmL_low,lowCens:kmL_lowCens,high:kmL_high,highCens:kmL_highCens,lowUp:kmL_lowUp,lowLo:kmL_lowLo,
  highUp:kmL_highUp,highLo:kmL_highLo,legend:kmL_legend,stats:kmL_stats,sig:'KG-1  AML signature',legX:2200,statX:2762});
drawKM({x0:3048,low:kmR_low,lowCens:kmR_lowCens,high:kmR_high,highCens:kmR_highCens,lowUp:kmR_lowUp,lowLo:kmR_lowLo,
  highUp:kmR_highUp,highLo:kmR_highLo,legend:kmR_legend,stats:kmR_stats,sig:'Kasumi-1  AML signature',legX:3399,statX:3959});
</script>
</body></html>
